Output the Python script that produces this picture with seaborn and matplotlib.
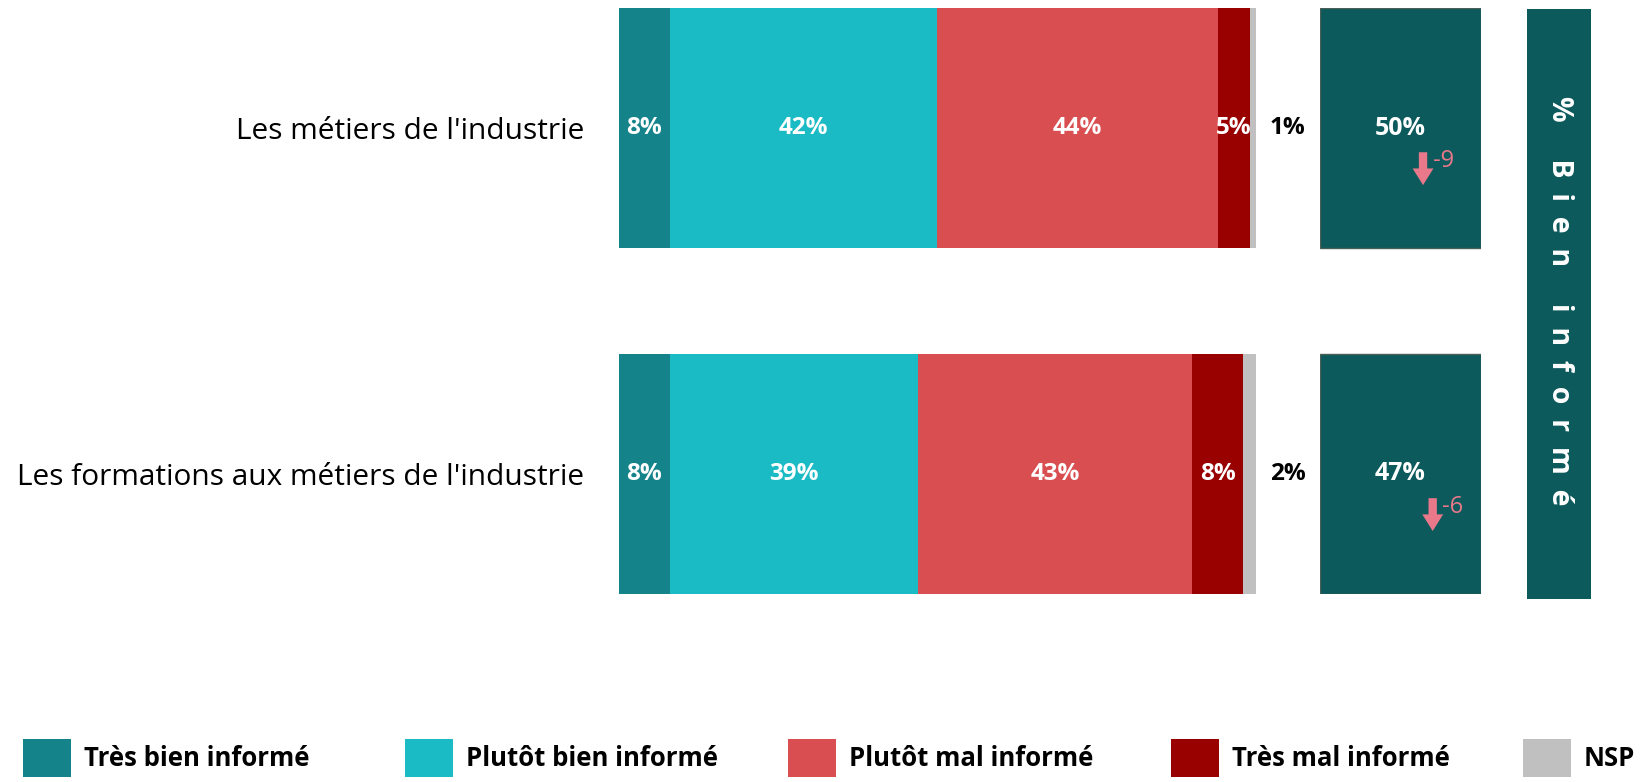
import matplotlib
matplotlib.use("Agg")
import matplotlib.pyplot as plt
import pandas as pd
import seaborn as sns
from matplotlib.patches import Patch

# data
categories = ["Les métiers de l'industrie", "Les formations aux métiers de l'industrie"]
levels = ["Très bien informé", "Plutôt bien informé", "Plutôt mal informé", "Très mal informé", "NSP"]
tres_bien = [8, 8]
plutot_bien = [42, 39]
plutot_mal = [44, 43]
tres_mal = [5, 8]
nsp = [1, 2]
bien_informe = [50, 47]
evolution = [-9, -6]

colors = ["#15838A", "#1ABBC4", "#D94F51", "#990000", "#C0C0C0"]
box_color = "#0D5A5C"
arrow_color = "#E8788A"

sns.set_theme(style="white")
plt.rcParams["font.family"] = ["Open Sans", "DejaVu Sans"]
plt.rcParams["text.color"] = "black"

df = pd.DataFrame(
    {
        "categorie": categories,
        levels[0]: tres_bien,
        levels[1]: plutot_bien,
        levels[2]: plutot_mal,
        levels[3]: tres_mal,
        levels[4]: nsp,
    }
)
cum = df[levels].cumsum(axis=1)
cum["categorie"] = df["categorie"]

W, H = 1645, 782
fig = plt.figure(figsize=(W / 100, H / 100), dpi=100)


def px_axes(x0, x1, y0, y1):
    return fig.add_axes([x0 / W, 1 - y1 / H, (x1 - x0) / W, (y1 - y0) / H])


bar_w = 0.694
ylim = (1 + bar_w / 2, -bar_w / 2)

# stacked bars: draw cumulative totals, longest first
ax = px_axes(619, 1256, 8, 594)
for lvl, c in reversed(list(zip(levels, colors))):
    sns.barplot(
        data=cum, x=lvl, y="categorie", orient="h", color=c,
        saturation=1, width=bar_w, linewidth=0, ax=ax,
    )
ax.set_xlim(0, 100)
ax.set_ylim(*ylim)
ax.set_xlabel("")
ax.set_ylabel("")
ax.set_xticks([])
ax.tick_params(axis="y", length=0, pad=25, labelsize=21.5, labelcolor="black")
sns.despine(ax=ax, left=True, bottom=True)

for i in range(len(categories)):
    for j, lvl in enumerate(levels):
        v = df.loc[i, lvl]
        end = cum.loc[i, lvl]
        if lvl == "NSP":
            ax.text(105, i, f"{v}%", ha="center", va="center", fontsize=17.5,
                    fontweight="bold", color="black", clip_on=False)
        else:
            ax.text(end - v / 2, i, f"{v}%", ha="center", va="center",
                    fontsize=17.5, fontweight="bold", color="white")

# "% bien informé" boxes
axb = px_axes(1320, 1481, 8, 594)
sns.barplot(
    x=[1] * len(categories), y=categories, orient="h", color=box_color,
    saturation=1, width=bar_w, edgecolor="#4A5F55", linewidth=1, ax=axb,
)
axb.set_xlim(0, 1)
axb.set_ylim(*ylim)
axb.set_xticks([])
axb.set_yticks([])
axb.set_xlabel("")
axb.set_ylabel("")
sns.despine(ax=axb, left=True, bottom=True)

arrow_x = [0.64, 0.70]
for i, (v, d) in enumerate(zip(bien_informe, evolution)):
    axb.text(0.5, i, f"{v}%", ha="center", va="center", fontsize=18,
             fontweight="bold", color="white")
    axb.annotate(
        "", xy=(arrow_x[i], i + 0.165), xytext=(arrow_x[i], i + 0.07),
        arrowprops=dict(
            arrowstyle="simple,head_length=0.6,head_width=0.75,tail_width=0.3",
            color=arrow_color, lw=0, shrinkA=0, shrinkB=0, mutation_scale=20,
        ),
    )
    axb.text(arrow_x[i] + 0.06, i + 0.095, f"{d}", ha="left", va="center",
             fontsize=17, color=arrow_color)

# vertical banner
axv = px_axes(1527, 1591, 9, 599)
axv.set_facecolor(box_color)
axv.set_xticks([])
axv.set_yticks([])
for s in axv.spines.values():
    s.set_visible(False)
banner = "%     B  i  e  n     i  n  f  o  r  m  é"
axv.text(0.5, 0.505, banner, rotation=-90, ha="center", va="center",
         fontsize=20.5, fontweight="bold", color="white", transform=axv.transAxes)

# legend
leg_x = [23, 405, 788, 1171, 1523]
for lvl, c, x in zip(levels, colors, leg_x):
    fig.legend(
        handles=[Patch(facecolor=c, edgecolor="none")], labels=[lvl],
        loc="center left", bbox_to_anchor=(x / W, 1 - 758 / H),
        frameon=False, handlelength=1.86, handleheight=1.86,
        handletextpad=0.5, borderpad=0, borderaxespad=0,
        prop=dict(weight="bold", size=18.5), labelcolor="black",
    )

fig.savefig("out.png", dpi=100)
